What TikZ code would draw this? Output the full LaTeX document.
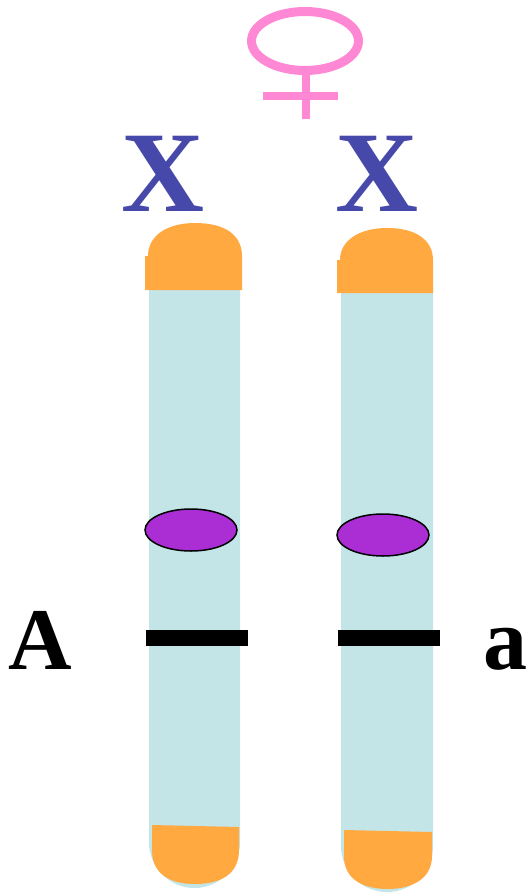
\documentclass[tikz,border=0pt]{standalone}
\usepackage{fontspec}
\setmainfont{Liberation Serif}

\definecolor{telomere}{RGB}{255,169,64}
\definecolor{chromatid}{RGB}{196,229,232}
\definecolor{centromere}{RGB}{170,46,212}
\definecolor{xlabel}{RGB}{70,72,170}
\definecolor{venus}{RGB}{255,136,212}

\begin{document}
\begin{tikzpicture}[x=1pt, y=-1pt,
    arm/.style={fill=chromatid, draw=none},
    tipcap/.style={fill=telomere, draw=none},
    bigletter/.style={font=\fontsize{115}{115}\selectfont\bfseries, text=xlabel, inner sep=0, anchor=base},
    allele/.style={font=\fontsize{88}{88}\selectfont\bfseries, inner sep=0, anchor=base}]
    \useasboundingbox (0,0) rectangle (530,892);

    % female sign
    \draw[venus, line width=9] (305,41) ellipse [x radius=53.5, y radius=29.5];
    \draw[venus, line width=8] (306,71) -- (306,119);
    \draw[venus, line width=8] (263,96) -- (338,96);

    % X labels
    \node[bigletter] (xleft) at (163.5,211) {X};
    \node[bigletter] (xright) at (377,211) {X};

    % left chromatid
    \fill[arm] (149,285) -- (240,285) -- (240,842)
        arc[start angle=0, end angle=-180, x radius=45.5, y radius=-46] -- cycle;
    \fill[tipcap] (145,290) -- (145,256) -- (148,256)
        .. controls (148,235) and (168,223) .. (195,223)
        .. controls (225,223) and (242,235) .. (242,256) -- (242,290) -- cycle;
    \fill[tipcap] (152,825) -- (239,827) -- (239,850)
        .. controls (239,876) and (218,884) .. (195,884)
        .. controls (170,884) and (152,874) .. (152,850) -- cycle;

    % right chromatid
    \fill[arm] (341,288) -- (433,288) -- (433,846)
        arc[start angle=0, end angle=-180, x radius=46, y radius=-46] -- cycle;
    \fill[tipcap] (337,293) -- (337,260) -- (340,260)
        .. controls (340,240) and (360,228) .. (387,228)
        .. controls (416,228) and (433,240) .. (433,260) -- (433,293) -- cycle;
    \fill[tipcap] (344,830) -- (432,832) -- (432,856)
        .. controls (432,880) and (410,889) .. (388,889)
        .. controls (364,889) and (344,880) .. (344,856) -- cycle;

    % centromeres
    \draw[fill=centromere, line width=1.5] (191,530) ellipse [x radius=46, y radius=21];
    \draw[fill=centromere, line width=1.5] (383,535) ellipse [x radius=46, y radius=21];

    % gene loci
    \draw[line width=16] (146,638) -- (248,638);
    \draw[line width=16] (338,638) -- (440,638);

    \node[allele] (bigA) at (40.5,669) {A};
    \node[allele] (smalla) at (505.5,669) {a};
\end{tikzpicture}
\end{document}
